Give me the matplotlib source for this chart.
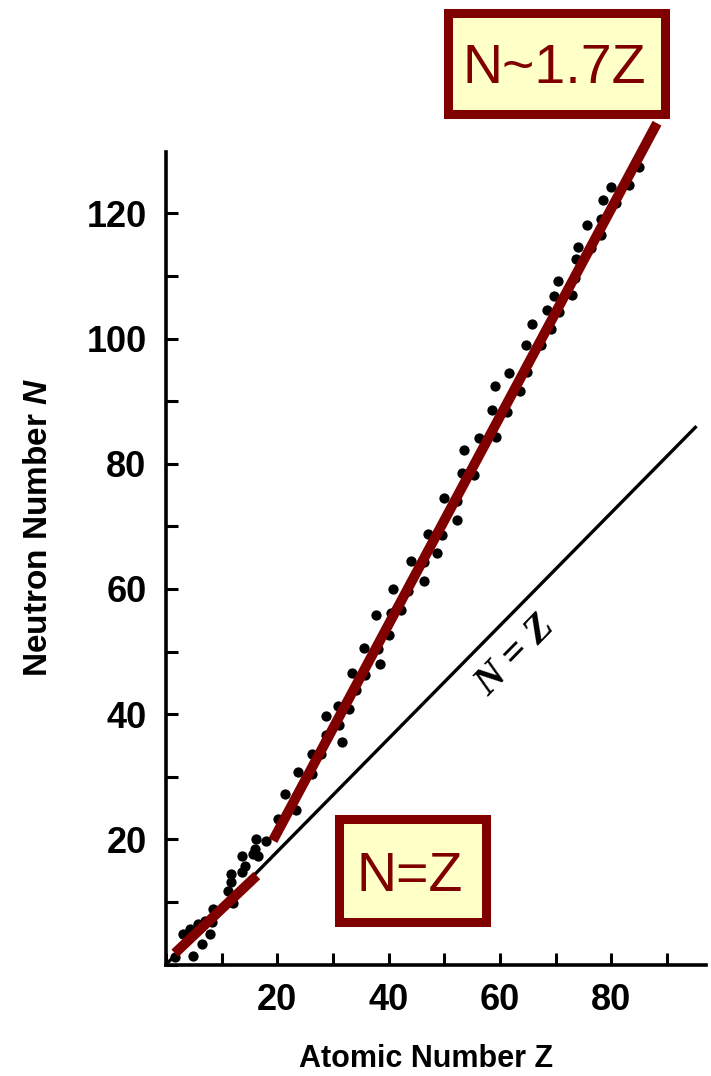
import matplotlib
matplotlib.use("Agg")
import matplotlib.pyplot as plt
from matplotlib.patches import Rectangle
from matplotlib.ticker import MultipleLocator

plt.rcParams['font.family'] = ['Liberation Sans', 'DejaVu Sans']
plt.rcParams['mathtext.fontset'] = 'custom'
plt.rcParams['mathtext.it'] = 'Liberation Sans:bold:italic'
plt.rcParams['mathtext.rm'] = 'Liberation Sans:bold'

# stable nuclei (atomic number Z, neutron number N)
Z = [85.0, 83.1, 79.9, 80.8, 78.5, 78.2, 75.6, 78.1, 74.0, 76.4,
     73.6, 73.4, 70.4, 69.7, 73.0, 68.5, 70.6, 65.7, 69.1, 64.6,
     67.3, 61.6, 64.9, 59.1, 63.6, 58.5, 61.2, 56.3, 59.3, 53.6,
     53.1, 55.3, 49.9, 52.2, 52.3, 47.1, 49.5, 48.7, 44.0, 46.3,
     46.3, 40.8, 43.5, 42.3, 40.5, 37.7, 40.1, 35.6, 38.1, 38.4,
     33.5, 35.7, 34.1, 30.9, 32.9, 28.7, 31.1, 28.7, 31.6, 26.2,
     27.8, 23.8, 26.2, 21.4, 23.3, 20.2, 18.0, 16.1, 16.0, 15.7,
     16.6, 13.7, 14.2, 13.6, 11.7, 11.7, 11.2, 12.1, 8.5, 8.3,
     7.0, 5.8, 4.3, 3.1, 7.9, 6.4, 4.9, 1.6]
N = [127.4, 124.6, 124.2, 121.7, 122.1, 119.1, 118.2, 116.6, 114.7, 114.5,
     112.7, 109.7, 109.2, 106.8, 106.9, 104.5, 104.3, 102.4, 101.6, 98.9,
     98.9, 94.5, 94.7, 92.4, 91.6, 88.6, 88.2, 84.1, 84.2, 82.2,
     78.5, 78.2, 74.6, 74.1, 71.0, 68.8, 68.6, 65.7, 64.5, 64.3,
     61.3, 60.0, 59.6, 56.6, 56.2, 55.9, 52.7, 50.6, 50.4, 48.0,
     46.5, 46.3, 43.9, 41.3, 40.8, 39.7, 38.3, 36.6, 35.6, 33.7,
     33.6, 30.7, 30.4, 27.3, 24.7, 23.3, 19.7, 20.1, 18.5, 17.7,
     17.4, 17.4, 15.8, 14.7, 14.5, 13.1, 11.8, 9.9, 8.9, 6.8,
     7.0, 6.5, 5.7, 4.9, 4.9, 3.3, 1.4, 1.2]

# the N = Z guide line as drawn
nz_z = [0, 95.3]
nz_n = [0, 86.0]

# red fits drawn over the data
light_z = [1.6, 16.3]
light_n = [1.8, 14.2]
heavy_z = [19.2, 88.2]
heavy_n = [19.8, 134.4]

red = '#800000'
cream = '#FFFFC8'

fig = plt.figure(figsize=(7.11, 10.76), dpi=100)
ax = fig.add_axes([166 / 711, 1 - 964.5 / 1076, 540 / 711, 812.5 / 1076])
ax.set_xlim(0, 97.0)
ax.set_ylim(0, 129.8)

ax.plot(nz_z, nz_n, color='black', lw=2.4, zorder=1.5, solid_capstyle='butt')
ax.plot(Z, N, 'o', color='black', ms=7.4, mec='none', zorder=2)
ax.plot(light_z, light_n, color=red, lw=7.2, zorder=3, solid_capstyle='butt')
ax.plot(heavy_z, heavy_n, color=red, lw=7.2, zorder=3, solid_capstyle='butt',
        clip_on=False)

ax.text(62.7, 49.4, 'N = Z', rotation=45.6, rotation_mode='anchor',
        ha='center', va='center', fontsize=29, fontstyle='italic',
        fontweight='bold', family=['Liberation Serif', 'DejaVu Serif'])

# axes look
for side in ['top', 'right']:
    ax.spines[side].set_visible(False)
for side in ['left', 'bottom']:
    ax.spines[side].set_linewidth(2.6)

ax.xaxis.set_major_locator(MultipleLocator(20))
ax.xaxis.set_minor_locator(MultipleLocator(10))
ax.yaxis.set_major_locator(MultipleLocator(20))
ax.yaxis.set_minor_locator(MultipleLocator(10))
ax.set_xticks([20, 40, 60, 80])
ax.set_yticks([20, 40, 60, 80, 100, 120])
ax.tick_params(which='both', direction='in', width=2.2, length=8.5)
ax.tick_params(axis='y', pad=14, labelsize=26)
ax.tick_params(axis='x', pad=13, labelsize=26)
for lab in ax.get_xticklabels() + ax.get_yticklabels():
    lab.set_fontweight('bold')

ax.set_xlabel('Atomic Number Z', fontsize=22, fontweight='bold')
ax.xaxis.set_label_coords(0.4815, -0.098)
ax.set_ylabel('Neutron Number $N$', fontsize=24, fontweight='bold')
ax.yaxis.set_label_coords(-0.236, 0.5375)
ax.yaxis.label.set_va('center')

# highlighted labels
box_font = ['Liberation Sans Narrow', 'Liberation Sans', 'DejaVu Sans']
ax.add_patch(Rectangle((50.7, 135.9), 39.0, 16.1, facecolor=cream,
                       edgecolor=red, lw=6.5, clip_on=False, zorder=4))
ax.text(69.8, 140.8, 'N~1.7Z', ha='center', va='baseline', color=red,
        fontsize=40, family=box_font, zorder=5, clip_on=False)
ax.add_patch(Rectangle((31.1, 6.8), 26.4, 16.4, facecolor=cream,
                       edgecolor=red, lw=6.5, zorder=4))
ax.text(43.7, 11.7, 'N=Z', ha='center', va='baseline', color=red,
        fontsize=40, family=box_font, zorder=5)

fig.savefig('out.png', dpi=100)
